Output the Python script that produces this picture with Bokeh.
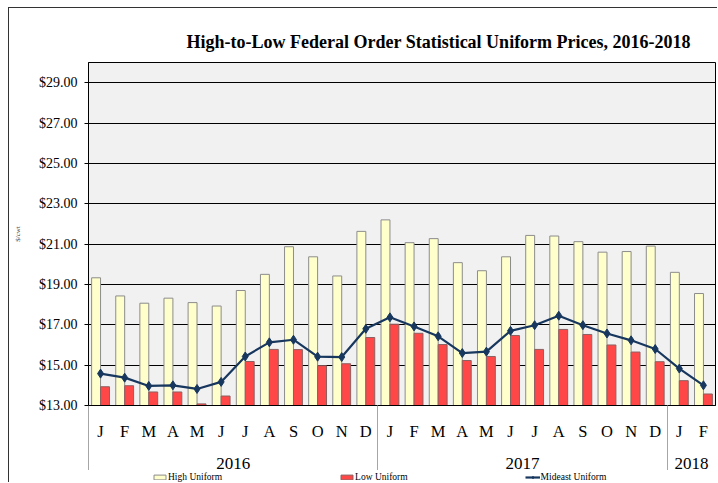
from bokeh.plotting import figure
from bokeh.layouts import row, column
from bokeh.models import (LinearAxis, FixedTicker, NumeralTickFormatter, Range1d,
                          Legend, LegendItem, ColumnDataSource, Grid, Spacer)
from bokeh.embed import file_html
from bokeh.resources import INLINE

# ---- data ----
month_labels = ["J", "F", "M", "A", "M", "J", "J", "A", "S", "O", "N", "D",
                "J", "F", "M", "A", "M", "J", "J", "A", "S", "O", "N", "D",
                "J", "F"]
years = ["2016", "2017", "2018"]
year_months = [12, 12, 2]
high_uniform = [19.33, 18.43, 18.07, 18.32, 18.10, 17.93, 18.70, 19.50, 20.87, 20.37, 19.42, 21.63,
                22.20, 21.07, 21.27, 20.08, 19.68, 20.37, 21.43, 21.40, 21.12, 20.60, 20.63, 20.90,
                19.60, 18.55]
low_uniform = [13.93, 13.98, 13.67, 13.67, 13.08, 13.47, 15.18, 15.78, 15.77, 14.97, 15.07, 16.37,
               17.03, 16.58, 16.02, 15.23, 15.43, 16.47, 15.78, 16.77, 16.52, 16.00, 15.65, 15.17,
               14.23, 13.57]
mideast_uniform = [14.58, 14.38, 13.97, 14.00, 13.82, 14.17, 15.43, 16.13, 16.26, 15.42, 15.40, 16.80,
                   17.37, 16.92, 16.43, 15.60, 15.67, 16.70, 16.98, 17.45, 16.98, 16.57, 16.23, 15.80,
                   14.83, 14.00]
series_names = ["High Uniform", "Low Uniform", "Mideast Uniform"]
y_ticks = [13, 15, 17, 19, 21, 23, 25, 27, 29]

SERIF = "Liberation Serif"
HIGH_FILL, LOW_FILL, MID_COLOR = "#ffffcc", "#ff4747", "#17375e"
n = len(month_labels)
idx = list(range(n))

src = ColumnDataSource(dict(
    x=idx,
    xh=[i - 0.185 for i in idx],
    xl=[i + 0.185 for i in idx],
    high=high_uniform, low=low_uniform, mid=mideast_uniform))

p = figure(width=709, height=463, output_backend="svg", toolbar_location=None,
           x_range=Range1d(-0.5, n - 0.5), y_range=Range1d(13, 30),
           x_axis_type=None, y_axis_type=None,
           min_border_left=79, min_border_right=3, min_border_top=54, min_border_bottom=0,
           background_fill_color="#f1f1f1", border_fill_color="white",
           title="High-to-Low Federal Order Statistical Uniform Prices, 2016-2018")
p.styles = {"border-left": "1px solid #333", "border-top": "1px solid #333"}

p.title.text_font = SERIF
p.title.text_font_style = "bold"
p.title.text_font_size = "18px"
p.title.align = "left"
p.title.offset = 98
p.title.standoff = 21
p.title.text_color = "black"

p.outline_line_color = "black"
p.outline_line_width = 1

# y axis
yaxis = LinearAxis(ticker=FixedTicker(ticks=y_ticks), formatter=NumeralTickFormatter(format="$0.00"),
                   axis_label="$/cwt")
yaxis.major_label_text_font = SERIF
yaxis.major_label_text_font_size = "14px"
yaxis.major_label_text_color = "black"
yaxis.major_tick_out = 4
yaxis.major_tick_in = 0
yaxis.minor_tick_line_color = None
yaxis.major_label_standoff = 7
yaxis.axis_line_color = "black"
yaxis.major_tick_line_color = "black"
yaxis.axis_label_text_font = SERIF
yaxis.axis_label_text_font_size = "7px"
yaxis.axis_label_text_font_style = "normal"
yaxis.axis_label_standoff = 14
p.add_layout(yaxis, "left")

p.ygrid.visible = False
p.xgrid.visible = False
p.add_layout(Grid(dimension=1, ticker=yaxis.ticker, grid_line_color="black", grid_line_width=1))

# year boundaries and centres
bounds = [-0.5]
acc = -0.5
for m in year_months[:-1]:
    acc += m
    bounds.append(acc)
year_centers = []
start = -0.5
for m in year_months:
    year_centers.append(start + m / 2)
    start += m

# month axis
maxis = LinearAxis(ticker=FixedTicker(ticks=idx),
                   major_label_overrides={i: month_labels[i] for i in idx})
maxis.major_label_text_font = SERIF
maxis.major_label_text_font_size = "16.5px"
maxis.major_label_text_color = "black"
maxis.major_tick_line_color = None
maxis.major_tick_out = 0
maxis.major_tick_in = 0
maxis.minor_tick_line_color = None
maxis.major_label_standoff = 16
maxis.axis_line_color = "black"
p.add_layout(maxis, "below")

# year axis
yraxis = LinearAxis(ticker=FixedTicker(ticks=year_centers),
                    major_label_overrides={c: y for c, y in zip(year_centers, years)})
yraxis.major_label_text_font = SERIF
yraxis.major_label_text_font_size = "17px"
yraxis.major_label_text_color = "black"
yraxis.major_tick_line_color = None
yraxis.major_tick_out = 0
yraxis.major_tick_in = 0
yraxis.minor_tick_line_color = None
yraxis.axis_line_color = None
yraxis.major_label_standoff = 14
p.add_layout(yraxis, "below")

# separator axis (outermost); its minor ticks point back up to the plot frame
saxis = LinearAxis(ticker=FixedTicker(ticks=[], minor_ticks=bounds))
saxis.axis_line_color = None
saxis.major_tick_line_color = None
saxis.major_label_standoff = 3
saxis.major_tick_out = 0
saxis.major_tick_in = 0
saxis.minor_tick_out = 0
saxis.minor_tick_in = 66
saxis.minor_tick_line_color = "#a6a6a6"
p.add_layout(saxis, "below")

# glyphs
p.vbar(x="xh", top="high", width=0.37, source=src, fill_color=HIGH_FILL,
       line_color="#8c8c8c", line_width=1)
p.vbar(x="xl", top="low", width=0.37, source=src, fill_color=LOW_FILL,
       line_color="#8c6060", line_width=1)
p.line(x="x", y="mid", source=src, line_color=MID_COLOR, line_width=2.2)
p.scatter(x="x", y="mid", source=src, marker="diamond", size=9,
          fill_color=MID_COLOR, line_color=MID_COLOR)

# legend strip (separate small figure below the chart; its data lies outside its ranges)
leg = figure(width=709, height=12, output_backend="svg", toolbar_location=None,
             x_range=Range1d(1000, 1001), y_range=Range1d(1000, 1001),
             x_axis_type=None, y_axis_type=None, min_border=0,
             outline_line_color=None, border_fill_color="white", background_fill_color="white")
leg.styles = {"border-left": "1px solid #333"}
leg.xgrid.visible = False
leg.ygrid.visible = False
lh = leg.vbar(x="xh", top="high", width=0.37, source=src, fill_color=HIGH_FILL, line_color="#8c8c8c")
ll = leg.vbar(x="xl", top="low", width=0.37, source=src, fill_color=LOW_FILL, line_color="#8c6060")
lm = leg.line(x="x", y="mid", source=src, line_color=MID_COLOR, line_width=2.2)
ld = leg.scatter(x="x", y="mid", source=src, marker="diamond", size=9,
                 fill_color=MID_COLOR, line_color=MID_COLOR)

legend = Legend(items=[LegendItem(label=series_names[0], renderers=[lh]),
                       LegendItem(label=series_names[1], renderers=[ll]),
                       LegendItem(label=series_names[2], renderers=[lm, ld])],
                orientation="horizontal", location=(64, 0))
legend.label_text_font = SERIF
legend.label_text_font_size = "9.5px"
legend.label_text_color = "black"
legend.glyph_width = 15
legend.glyph_height = 6
legend.label_height = 10
legend.label_standoff = 1
legend.spacing = 117
legend.padding = 0
legend.margin = 0
legend.border_line_color = None
legend.background_fill_alpha = 0
leg.add_layout(legend, "center")

layout = row(Spacer(width=8, height=483), column(Spacer(width=709, height=7), p, leg))

open("out.html", "w").write(file_html(layout, INLINE))
